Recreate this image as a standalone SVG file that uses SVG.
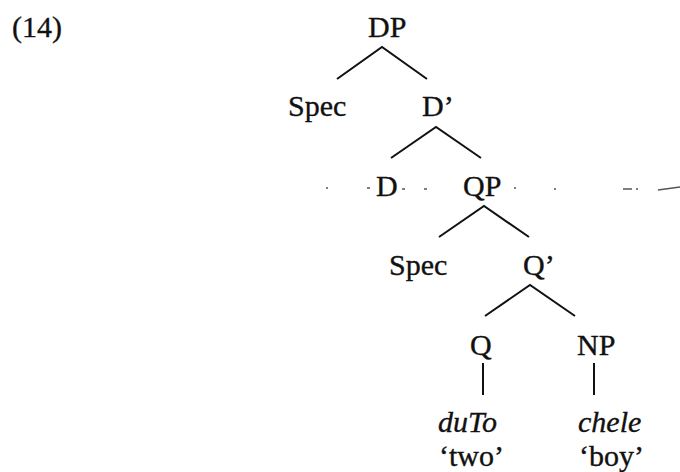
<svg xmlns="http://www.w3.org/2000/svg" width="680" height="472" viewBox="0 0 680 472">
<style>
.t{font-family:"Liberation Serif","Times New Roman",serif;font-size:30px;fill:#111;stroke:#111;stroke-width:0.35}
.i{font-style:italic}
.e{stroke:#111;stroke-width:2;fill:none;stroke-linecap:butt}
.n{stroke:#555;stroke-width:1.3;fill:none}
</style>
<rect width="680" height="472" fill="#fff"/>
<text class="t" x="12" y="37">(14)</text>
<g id="edges">
<path class="e" d="M337,79 L382,47 L427,79"/>
<path class="e" d="M391,158 L436,127 L481,158"/>
<path class="e" d="M439,237 L484,206 L529,237"/>
<path class="e" d="M485,316 L530,285 L575,316"/>
<path class="e" d="M483,363 L483,395"/>
<path class="e" d="M594,363 L594,395"/>
</g>
<g id="DP"><text class="t" x="368" y="37">DP</text></g>
<g id="Spec1"><text class="t" x="288" y="116">Spec</text></g>
<g id="Dbar"><text class="t" x="422" y="116">D’</text></g>
<g id="D"><text class="t" x="376" y="196">D</text></g>
<g id="QP"><text class="t" x="463" y="196">QP</text></g>
<g id="Spec2"><text class="t" x="389" y="275">Spec</text></g>
<g id="Qbar"><text class="t" x="523" y="275">Q’</text></g>
<g id="Q"><text class="t" x="470" y="355">Q</text></g>
<g id="NP"><text class="t" x="577" y="355">NP</text></g>
<g id="duTo"><text class="t i" x="438" y="432">duTo</text><text class="t" x="439" y="466">‘two’</text></g>
<g id="chele"><text class="t i" x="578" y="432">chele</text><text class="t" x="579" y="466">‘boy’</text></g>
<g id="noise">
<path class="n" d="M326,188h2 M367,188h3 M402,189h3 M424,189h3 M514,188h2 M554,189h2 M623,189h9 M636,189h2 M658,190 L680,187"/>
</g>
</svg>
